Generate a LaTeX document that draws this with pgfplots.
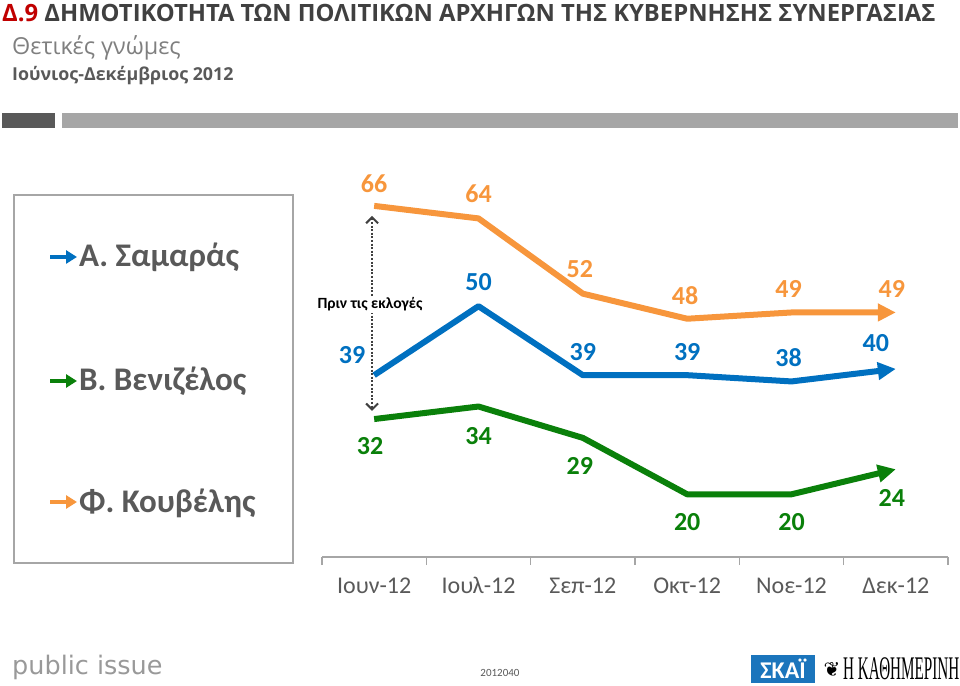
\documentclass[border=0pt]{standalone}
\usepackage{pgfplots}
\pgfplotsset{compat=1.18}
\usepackage{pgfplotstable}
\usepackage{fontspec}
\setmainfont{Carlito}
\newfontfamily\osans{Open Sans}
\newfontfamily\dejavu{DejaVu Sans}
\newfontfamily\lserifc[FakeStretch=0.46]{Liberation Serif}
\usetikzlibrary{arrows.meta}
\definecolor{orangeC}{HTML}{F7963C}
\definecolor{blueC}{HTML}{0070C0}
\definecolor{greenC}{HTML}{0A800A}
\definecolor{titred}{HTML}{C00000}
\definecolor{titgray}{HTML}{404040}
\definecolor{labgray}{HTML}{595959}
\definecolor{subgray}{HTML}{7F7F7F}
\definecolor{linegray}{HTML}{A6A6A6}
\definecolor{skai}{HTML}{1B75BC}

\pgfplotstableread{
x y dx dy lab
0 66 0 22 66
1 64 0 25 64
2 52 -3 25 52
3 48 -2 23 48
4 49 -3 23 49
5 49 -4 23 49
}\orangetab
\pgfplotstableread{
x y dx dy lab
0 39 -22 20 39
1 50 0 24 50
2 39 0 23 39
3 39 0 23 39
4 38 -3 24 38
5 40 -20 26 40
}\bluetab
\pgfplotstableread{
x y dx dy lab
0 32 -4 -27 32
1 34 0 -30 34
2 29 -3 -28 29
3 20 0 -28 20
4 20 0 -28 20
5 24 -4 -29 24
}\greentab

\begin{document}
\begin{tikzpicture}[x=1pt,y=1pt]
\path[use as bounding box] (0,0) rectangle (960,685);
% titles
\node[anchor=base west, inner sep=0pt, text=titgray] at (2,663) {\osans\bfseries\fontsize{23.8}{25}\selectfont\textcolor{titred}{Δ.9} ΔΗΜΟΤΙΚΟΤΗΤΑ ΤΩΝ ΠΟΛΙΤΙΚΩΝ ΑΡΧΗΓΩΝ ΤΗΣ ΚΥΒΕΡΝΗΣΗΣ ΣΥΝΕΡΓΑΣΙΑΣ};
\node[anchor=base west, inner sep=0pt, text=subgray] at (12,630) {\osans\fontsize{23.4}{25}\selectfont Θετικές γνώμες};
\node[anchor=base west, inner sep=0pt, text=labgray] at (12,604) {\osans\bfseries\fontsize{17.8}{20}\selectfont Ιούνιος-Δεκέμβριος 2012};
% bars
\fill[labgray] (2,557) rectangle (55,572);
\fill[linegray] (62,557) rectangle (958,572);
% legend box
\draw[linegray, line width=1.2pt] (14,490) rectangle (293,122);
\draw[blueC, line width=4pt, -{Triangle[length=11pt,width=13pt]}] (50,428) -- (77,428);
\draw[greenC, line width=4pt, -{Triangle[length=11pt,width=13pt]}] (50,304) -- (77,304);
\draw[orangeC, line width=4pt, -{Triangle[length=11pt,width=13pt]}] (50,183) -- (77,183);
\node[anchor=base west, inner sep=0pt, text=labgray] at (79,418) {\bfseries\fontsize{33}{36}\selectfont Α. Σαμαράς};
\node[anchor=base west, inner sep=0pt, text=labgray] at (79,294) {\bfseries\fontsize{33}{36}\selectfont Β. Βενιζέλος};
\node[anchor=base west, inner sep=0pt, text=labgray] at (79,172) {\bfseries\fontsize{33}{36}\selectfont Φ. Κουβέλης};

\begin{axis}[
  at={(322pt,128pt)}, anchor=south west,
  x=104.333pt, y=6.27pt,
  xmin=-0.5, xmax=5.5, ymin=10, ymax=71,
  axis x line*=bottom, axis y line=none,
  x axis line style={color=linegray, line width=1.2pt},
  xtick={0,1,2,3,4,5},
  xticklabels={Ιουν-12,Ιουλ-12,Σεπ-12,Οκτ-12,Νοε-12,Δεκ-12},
  major tick length=0pt,
  minor xtick={-0.5,0.5,1.5,2.5,3.5,4.5,5.5},
  minor tick length=8pt, tick align=outside,
  minor tick style={linegray, line width=1.2pt},
  xticklabel style={font=\fontsize{24}{26}\selectfont, text=labgray, yshift=-17pt},
  clip=false,
  every axis plot/.append style={line width=6pt, line join=round, mark=none,
     -{Triangle[length=18pt,width=17pt]}},
  nodes near coords={\pgfplotspointmeta},
  point meta=explicit symbolic,
  visualization depends on={\thisrow{dx} \as \dx},
  visualization depends on={\thisrow{dy} \as \dy},
]
\addplot[orangeC, nodes near coords style={font=\bfseries\fontsize{26}{28}\selectfont, text=orangeC, anchor=center, xshift=\dx*1pt, yshift=\dy*1pt}] table[x=x,y=y,meta=lab]{\orangetab};
\addplot[blueC, nodes near coords style={font=\bfseries\fontsize{26}{28}\selectfont, text=blueC, anchor=center, xshift=\dx*1pt, yshift=\dy*1pt}] table[x=x,y=y,meta=lab]{\bluetab};
\addplot[greenC, nodes near coords style={font=\bfseries\fontsize{26}{28}\selectfont, text=greenC, anchor=center, xshift=\dx*1pt, yshift=\dy*1pt}] table[x=x,y=y,meta=lab]{\greentab};
\draw[titgray, line width=2.8pt, dash pattern=on 2pt off 1.6pt, {Straight Barb[length=6pt,width=12pt,line width=2pt]}-{Straight Barb[length=6pt,width=12pt,line width=2pt]}] (axis cs:-0.02,64.4) -- (axis cs:-0.02,33.3);
\node[fill=white, inner sep=2pt, font=\bfseries\fontsize{15.6}{17}\selectfont] at (axis cs:-0.04,50.3) {Πριν τις εκλογές};
\end{axis}

% footer
\node[anchor=base west, inner sep=0pt, text=gray!80] at (12,11) {\dejavu\fontsize{25.5}{26}\selectfont public issue};
\node[anchor=center, inner sep=0pt, text=labgray] at (500,12) {\fontsize{11}{12}\selectfont 2012040};
\fill[skai] (751,2) rectangle (815,30);
\node[anchor=center, inner sep=0pt, text=white] at (783,16) {\bfseries\fontsize{24}{24}\selectfont ΣΚΑΪ};
\node[anchor=center, inner sep=0pt] at (832,16) {\dejavu\fontsize{20}{20}\selectfont ❦};
\node[anchor=base west, inner sep=0pt] at (843,6) {\lserifc\fontsize{33}{33}\selectfont Η ΚΑΘΗΜΕΡΙΝΗ};
\end{tikzpicture}
\end{document}
